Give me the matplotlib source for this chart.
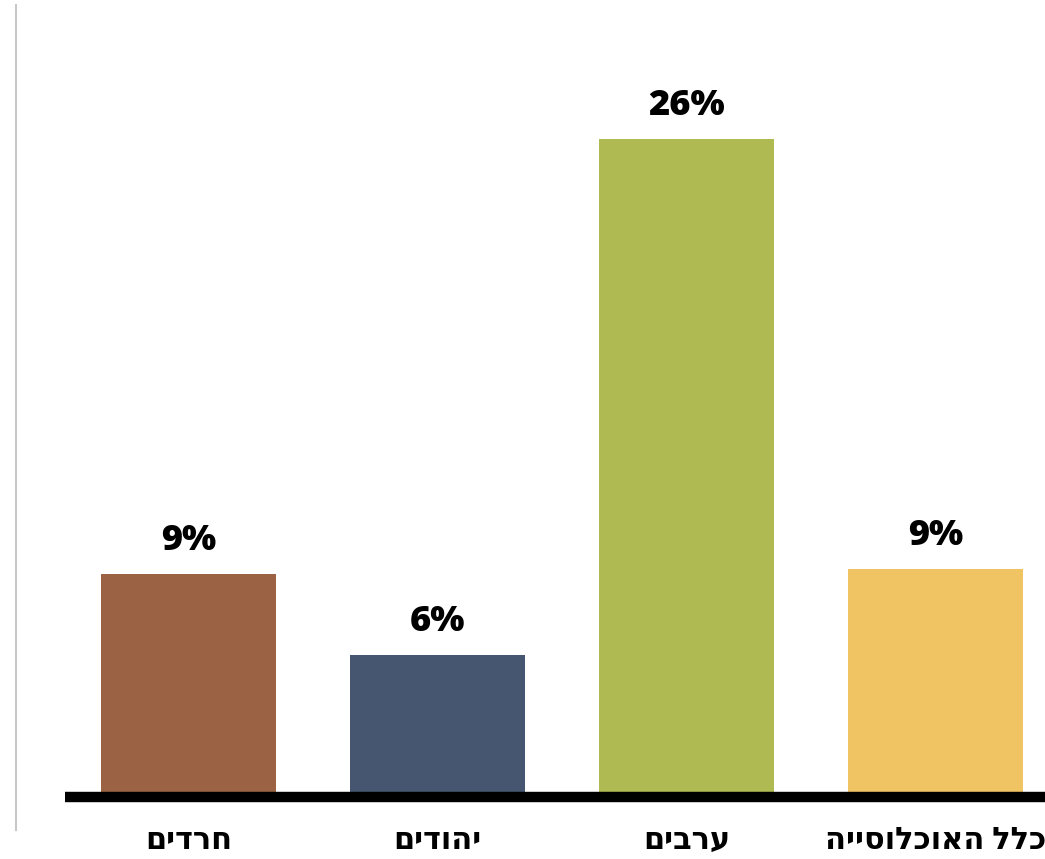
import matplotlib
matplotlib.use("Agg")
import matplotlib.pyplot as plt
from matplotlib.lines import Line2D

# data
groups = ["חרדים", "יהודים", "ערבים", "כלל האוכלוסייה"]
values = [8.8, 5.6, 26.0, 9.0]
colors = ["#9B6244", "#465670", "#AFBB52", "#F0C463"]

plt.rcParams['font.family'] = ['Open Sans', 'DejaVu Sans']

W, H = 1045, 859
fig = plt.figure(figsize=(W / 100, H / 100), dpi=100)
# axes from x=65px to the right edge, baseline at y=797px
ax = fig.add_axes([65 / W, 1 - 797 / H, 1 - 65 / W, 797 / H])

x = list(range(len(groups)))
bars = ax.bar(x, values, width=0.703, color=colors, zorder=2)

ax.set_xlim(-0.496, 3.44)
ax.set_ylim(0, 31.49)

for rect, v in zip(bars, values):
    ax.annotate(f"{v:.0f}%", (rect.get_x() + rect.get_width() / 2, v),
                xytext=(0, 11), textcoords='offset points',
                ha='center', va='bottom', fontsize=26, fontweight=800)

# matplotlib has no bidi support: reverse Hebrew for display
for xi, g in zip(x, groups):
    ax.annotate(g[::-1], (xi, 0), xytext=(0, -20), textcoords='offset points',
                ha='center', va='top', fontsize=22, fontweight=800,
                annotation_clip=False)

for s in ['top', 'right', 'left']:
    ax.spines[s].set_visible(False)
ax.spines['bottom'].set_linewidth(7.5)
ax.spines['bottom'].set_color('black')
ax.spines['bottom'].set_capstyle('butt')
ax.spines['bottom'].set_zorder(3)
ax.set_xticks([])
ax.set_yticks([])

# thin grey line on the far left
fig.add_artist(Line2D([15.5 / W, 15.5 / W], [1 - 5 / H, 1 - 830 / H],
                      transform=fig.transFigure, color='#c8c8c8', lw=1.5))

fig.savefig("out.png", dpi=100)
